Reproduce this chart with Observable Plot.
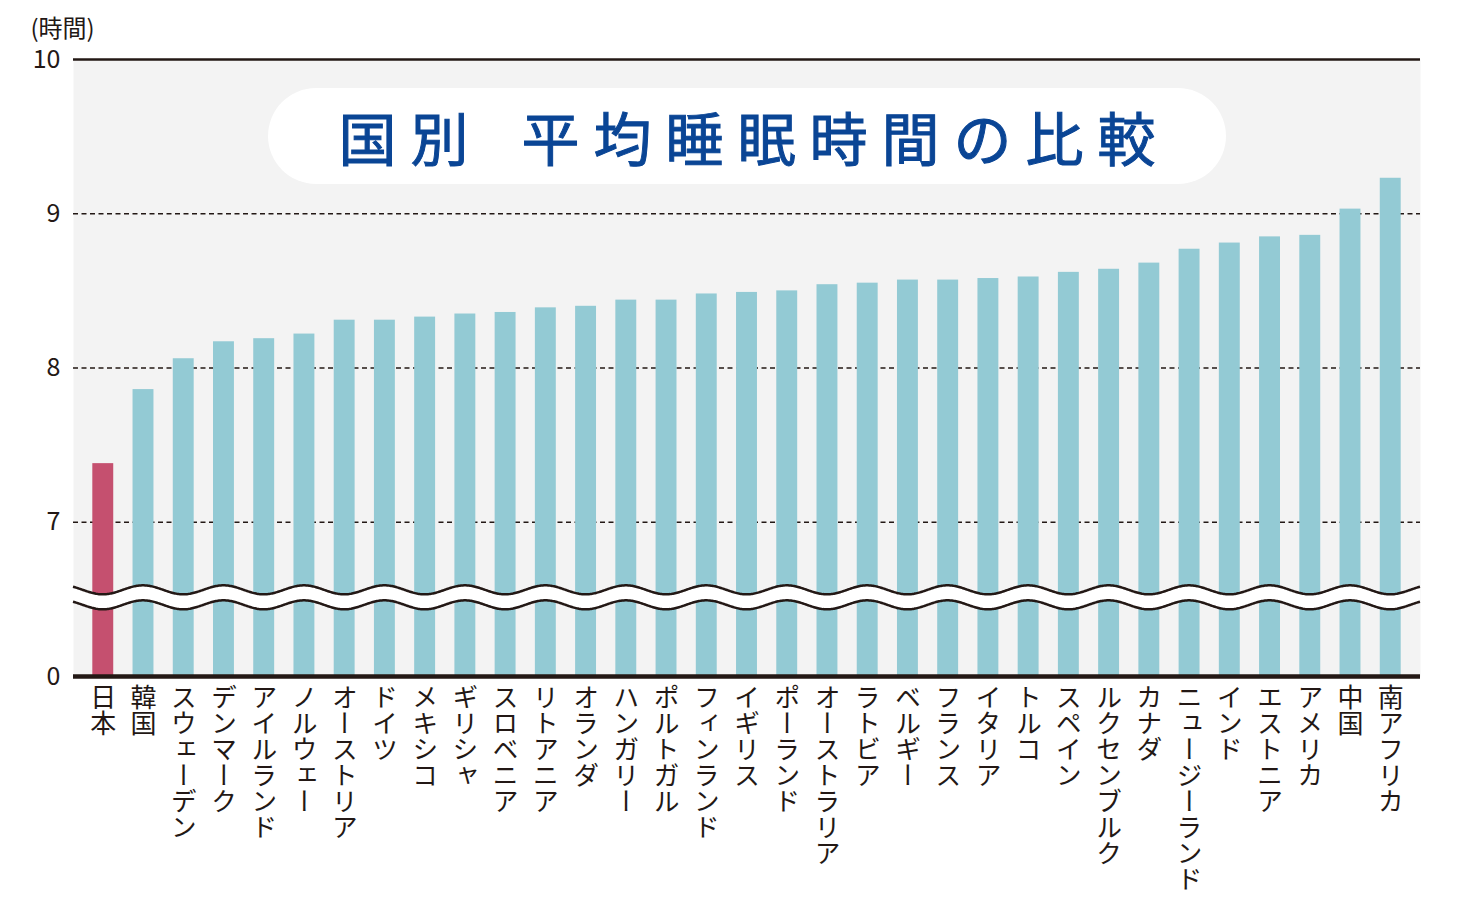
<!DOCTYPE html>
<html>
<head>
<meta charset="utf-8">
<script src="https://cdn.jsdelivr.net/npm/d3@7"></script>
<script src="https://cdn.jsdelivr.net/npm/@observablehq/plot@0.6"></script>
<style>
  html, body { margin: 0; padding: 0; background: #ffffff; }
  #wrap { position: relative; width: 1460px; height: 900px; font-family: "Noto Sans CJK JP", "Noto Sans", sans-serif; }
  #title {
    position: absolute; left: 268px; top: 88px; width: 958px; height: 96px;
    border-radius: 48px; background: #ffffff;
    display: flex; align-items: center; justify-content: center;
    color: #0a4595; font-size: 58px; font-weight: 400; -webkit-text-stroke: 1px #0a4595;
    letter-spacing: 14px; word-spacing: 12px; padding-left: 14px; box-sizing: border-box;
    white-space: pre;
  }
  svg text.vlabel { writing-mode: vertical-rl; text-orientation: mixed; }
</style>
</head>
<body>
<div id="wrap">
  <div id="chart"></div>
  <div id="title">国別 平均睡眠時間の比較</div>
</div>
<script>
// ---- data ----
const countries = [
  "日本", "韓国", "スウェーデン", "デンマーク", "アイルランド", "ノルウェー", "オーストリア",
  "ドイツ", "メキシコ", "ギリシャ", "スロベニア", "リトアニア", "オランダ", "ハンガリー",
  "ポルトガル", "フィンランド", "イギリス", "ポーランド", "オーストラリア", "ラトビア",
  "ベルギー", "フランス", "イタリア", "トルコ", "スペイン", "ルクセンブルク", "カナダ",
  "ニュージーランド", "インド", "エストニア", "アメリカ", "中国", "南アフリカ"
];
const hours = [
  7.38, 7.86, 8.06, 8.17, 8.19, 8.22, 8.31,
  8.31, 8.33, 8.35, 8.36, 8.39, 8.40, 8.44,
  8.44, 8.48, 8.49, 8.50, 8.54, 8.55,
  8.57, 8.57, 8.58, 8.59, 8.62, 8.64, 8.68,
  8.77, 8.81, 8.85, 8.86, 9.03, 9.23
];
const highlight = "日本";
const axisBreak = 6;            // the "0" baseline of the broken axis
const breakCenter = 6.51;       // where the wavy break is drawn
const yTicks = [6, 7, 8, 9, 10];
const yTickLabels = ["0", "7", "8", "9", "10"];
const gridTicks = [7, 8, 9];
const unitLabel = "(時間)";

const data = countries.map((c, i) => ({country: c, hours: hours[i]}));
const ink = "#231815";

// wavy axis-break decoration
function waveMark(index, scales, values, dimensions) {
  const x = scales.x, y = scales.y;
  const bw = typeof x.bandwidth === "function" ? x.bandwidth() : (x.bandwidth || 0);
  const x0 = x(countries[0]) + bw / 2;
  const step = x(countries[1]) - x(countries[0]);
  const period = 2 * step, amp = 4.5, gap = 7.5;
  const c = y(breakCenter);
  const left = dimensions.marginLeft, right = dimensions.width - dimensions.marginRight;
  const xs = d3.range(left, right + 0.5, 1);
  const f = (px, off) => [px, c + off + amp * Math.cos(2 * Math.PI * (px - x0) / period)];
  const up = xs.map(px => f(px, -gap));
  const lo = xs.map(px => f(px, gap));
  const line = d3.line();
  const g = d3.create("svg:g");
  g.append("path").attr("d", line(up.concat(lo.slice().reverse())) + "Z").attr("fill", "#ffffff");
  g.append("path").attr("d", line(up)).attr("fill", "none").attr("stroke", ink).attr("stroke-width", 2.5);
  g.append("path").attr("d", line(lo)).attr("fill", "none").attr("stroke", ink).attr("stroke-width", 2.5);
  return g.node();
}

const plot = Plot.plot({
  width: 1460,
  height: 900,
  marginLeft: 73,
  marginRight: 40,
  marginTop: 59,
  marginBottom: 224,
  style: {fontFamily: '"Noto Sans CJK JP", "Noto Sans", sans-serif', color: ink, background: "transparent", fontSize: "25px"},
  x: {domain: countries, padding: 0.48, round: false, axis: null},
  y: {domain: [6, 10], ticks: yTicks, tickFormat: d => yTickLabels[yTicks.indexOf(d)], tickSize: 0, tickPadding: 13, label: null},
  marks: [
    Plot.frame({fill: "#f3f3f3", stroke: null}),
    Plot.ruleY(gridTicks, {stroke: ink, strokeWidth: 1.3, strokeDasharray: "5,3.5"}),
    Plot.barY(data.filter(d => d.country !== highlight), {x: "country", y1: axisBreak, y2: "hours", fill: "#93cad4"}),
    Plot.barY(data.filter(d => d.country === highlight), {x: "country", y1: axisBreak, y2: "hours", fill: "#c5506f"}),
    waveMark,
    Plot.ruleY([10], {stroke: ink, strokeWidth: 2.5}),
    Plot.ruleY([axisBreak], {stroke: ink, strokeWidth: 4.5}),
    Plot.text(data, {x: "country", text: "country", frameAnchor: "bottom", textAnchor: "start", lineAnchor: "middle", dy: -1, fontSize: 26, fill: ink}),
    Plot.text([unitLabel], {frameAnchor: "top-left", textAnchor: "start", lineAnchor: "middle", dx: -43, dy: -30, fontSize: 24, fill: ink})
  ]
});

document.getElementById("chart").appendChild(plot);
const labelSet = new Set(countries);
d3.select(plot).selectAll("text")
  .filter(function() { return labelSet.has(this.textContent); })
  .classed("vlabel", true)
  .attr("writing-mode", "tb-rl")
  .style("writing-mode", "vertical-rl");
</script>
</body>
</html>
